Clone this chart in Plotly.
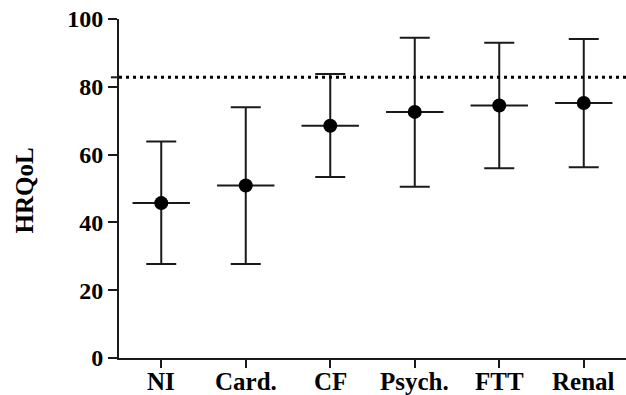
import plotly.graph_objects as go

categories = ["NI", "Card.", "CF", "Psych.", "FTT", "Renal"]
means = [45.7, 50.9, 68.5, 72.6, 74.5, 75.2]
upper = [63.9, 74.0, 83.8, 94.5, 93.0, 94.1]
lower = [27.7, 27.7, 53.4, 50.5, 56.0, 56.3]
reference_value = 82.8
y_ticks = [0, 20, 40, 60, 80, 100]

err_plus = [u - m for u, m in zip(upper, means)]
err_minus = [m - l for m, l in zip(means, lower)]

FONT = "Liberation Serif, Times New Roman, serif"
INK = "#1a1a1a"

fig = go.Figure()
fig.add_trace(go.Scatter(
    x=categories, y=means, mode="markers",
    marker=dict(symbol="line-ew", size=41, line=dict(width=2, color=INK), color=INK),
    error_y=dict(type="data", symmetric=False, array=err_plus, arrayminus=err_minus,
                 width=15, thickness=2, color=INK),
    showlegend=False, hoverinfo="skip",
))
fig.add_trace(go.Scatter(
    x=categories, y=means, mode="markers",
    marker=dict(symbol="circle", size=14, color="black"),
    showlegend=False,
))

fig.add_hline(y=reference_value, line=dict(color="black", width=3, dash="3px,4px"))
fig.add_shape(type="line", xref="paper", yref="y", x0=-0.016, x1=0, y0=reference_value, y1=reference_value,
              line=dict(color=INK, width=2))

# category labels placed just below the axis ticks
for cat in categories:
    fig.add_annotation(text=cat, x=cat, xref="x", y=0, yref="paper", yanchor="top",
                       yshift=-8, showarrow=False,
                       font=dict(family=FONT, size=25, color="black", weight="bold"))

fig.add_annotation(text="HRQoL", xref="paper", yref="paper", x=-0.187, y=0.495,
                   textangle=-90, showarrow=False, xanchor="center", yanchor="middle",
                   font=dict(family=FONT, size=25, color="black", weight="bold"))

fig.update_layout(
    width=626, height=395,
    margin=dict(l=119, r=0, t=19, b=37, autoexpand=False),
    plot_bgcolor="white", paper_bgcolor="white",
    xaxis=dict(type="category", categoryorder="array", categoryarray=categories,
               range=[-0.5, 5.5], showline=True, linecolor=INK, linewidth=2,
               ticks="outside", ticklen=8, tickwidth=2, tickcolor=INK,
               showticklabels=False, automargin=False,
               showgrid=False, zeroline=False),
    yaxis=dict(range=[0, 100], tickvals=y_ticks, showline=True, linecolor=INK, linewidth=2,
               ticks="outside", ticklen=9, tickwidth=2, tickcolor=INK,
               automargin=False,
               showgrid=False, zeroline=False,
               tickfont=dict(family=FONT, size=24, color="black", weight="bold")),
)

fig.write_html("out.html", config={"displayModeBar": False},
               post_script="document.body.style.margin='0';document.body.style.overflow='hidden';")
